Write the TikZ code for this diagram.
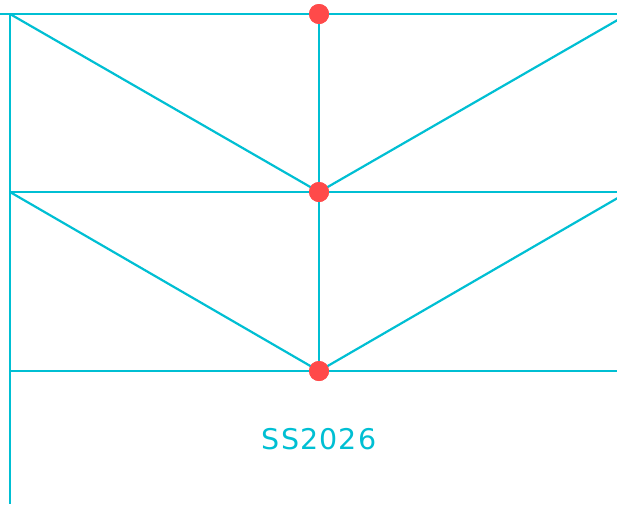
\documentclass[tikz,border=0pt]{standalone}
\usepackage{fontspec}
\setmainfont{Liberation Sans}
\newfontfamily\labelfont{DejaVu Sans}
\definecolor{trusscyan}{HTML}{00BFD3}
\definecolor{jointred}{HTML}{FF4A4A}

\begin{document}
\begin{tikzpicture}[x=1pt,y=-1pt]
\tikzstyle{every node}+=[inner sep=0pt]
\tikzstyle{member}=[trusscyan, line width=2.2pt]
\tikzstyle{joint}=[circle, fill=jointred, minimum size=20pt]
\useasboundingbox (0,0) rectangle (617,504);
\clip (0,0) rectangle (617,504);
% frame points
\coordinate (wall top) at (10,14);
\coordinate (wall mid) at (10,192);
\coordinate (wall low) at (10,371);
\coordinate (wall foot) at (10,504);
\coordinate (top left) at (0,14);
\coordinate (top right) at (617,14);
\coordinate (mid right) at (617,192);
\coordinate (low right) at (617,371);
\coordinate (far top) at (628,14);
\coordinate (far mid) at (628,192);
% joints
\node [joint] (j1) at (319,14) {};
\node [joint] (j2) at (319,192) {};
\node [joint] (j3) at (319,371) {};
% chords
\draw [member] (top left) -- (top right);
\draw [member] (wall mid) -- (mid right);
\draw [member] (wall low) -- (low right);
\draw [member] (wall top) -- (wall foot);
\draw [member] (j1.center) -- (j3.center);
% diagonals
\draw [member] (wall top) -- (j2.center);
\draw [member] (far top) -- (j2.center);
\draw [member] (wall mid) -- (j3.center);
\draw [member] (far mid) -- (j3.center);
% joints on top
\node [joint] at (j1) {};
\node [joint] at (j2) {};
\node [joint] at (j3) {};
\node [trusscyan, font=\labelfont\addfontfeature{LetterSpace=4}\fontsize{28.5}{29}\selectfont] (label) at (319,439) {SS2026};
\end{tikzpicture}
\end{document}
